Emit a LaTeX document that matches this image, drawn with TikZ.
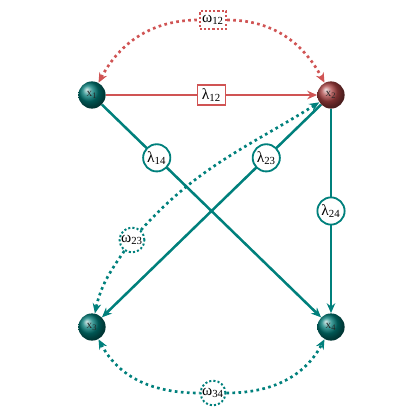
\documentclass[tikz,border=0pt]{standalone}
\usepackage{fontspec}
\setmainfont{Liberation Serif}
\usetikzlibrary{arrows.meta,shapes.geometric}
\definecolor{tealc}{RGB}{0,128,124}
\definecolor{redc}{RGB}{208,84,84}
\definecolor{tealball}{RGB}{0,122,118}
\definecolor{redball}{RGB}{170,66,66}
\tikzset{tipd/.tip={Stealth[length=7pt,width=6pt]}}
\begin{document}
\begin{tikzpicture}[x=0.025cm,y=-0.025cm,
  vert/.style={circle,minimum size=0.68cm,inner sep=0pt,font=\footnotesize,text=black!85},
  tvert/.style={vert,ball color=tealball},
  rvert/.style={vert,ball color=redball},
  solidt/.style={draw=tealc,line width=1.8pt,-{tipd}},
  solidr/.style={draw=redc,line width=1.8pt,-{tipd}},
  dotr/.style={draw=redc,line width=1.9pt,dash pattern=on 1.9pt off 2.4pt},
  dott/.style={draw=tealc,line width=1.9pt,dash pattern=on 1.9pt off 2.4pt},
  lamc/.style={circle,draw=tealc,fill=white,line width=1.3pt,minimum size=0.68cm,inner sep=0pt,font=\fontsize{11}{13}\selectfont},
  lamr/.style={rectangle,draw=redc,fill=white,line width=1.3pt,minimum width=0.7cm,minimum height=0.5cm,inner sep=1pt,font=\fontsize{11}{13}\selectfont},
  omr/.style={rectangle,dotr,line width=1.4pt,dash pattern=on 1.5pt off 1.5pt,fill=white,minimum width=0.66cm,minimum height=0.44cm,inner sep=1pt,font=\fontsize{11}{13}\selectfont},
  omt/.style={circle,dott,line width=1.4pt,dash pattern=on 1.5pt off 1.5pt,fill=white,minimum size=0.62cm,inner sep=0pt,font=\fontsize{11}{13}\selectfont}
]
\useasboundingbox (0,0) rectangle (420,420);
\node[tvert] (x1) at (92,95) {x\textsubscript{1}};
\node[rvert] (x2) at (331,95) {x\textsubscript{2}};
\node[tvert] (x3) at (92,327) {x\textsubscript{3}};
\node[tvert] (x4) at (331,327) {x\textsubscript{4}};
% omega labels
\node[omr] (w12) at (213,20) {ω\textsubscript{12}};
\node[omt] (w23) at (132,240) {ω\textsubscript{23}};
\node[omt] (w34) at (213,393) {ω\textsubscript{34}};
% dotted curves
\draw[dotr,{tipd}-] (x1) to[out=62,in=180] (w12);
\draw[dotr,-{tipd}] (w12) to[out=0,in=118] (x2);
\draw[dott,{tipd}-] (x3) to[out=-62,in=180] (w34);
\draw[dott,-{tipd}] (w34) to[out=0,in=-118] (x4);
\draw[dott,{tipd}-] (x2) to[out=212,in=48] (w23);
\draw[dott,-{tipd}] (w23) to[out=235,in=78] (x3);
% solid edges
\draw[solidr] (x1) -- (x2) node[lamr,pos=0.5] (l12) {λ\textsubscript{12}};
\draw[solidt] (x1) -- (x4) node[lamc,pos=0.25] (l14) {λ\textsubscript{14}};
\draw[solidt] (x2) -- (x3) node[lamc,pos=0.25] (l23) {λ\textsubscript{23}};
\draw[solidt] (x2) -- (x4) node[lamc,pos=0.5] (l24) {λ\textsubscript{24}};
\end{tikzpicture}
\end{document}
